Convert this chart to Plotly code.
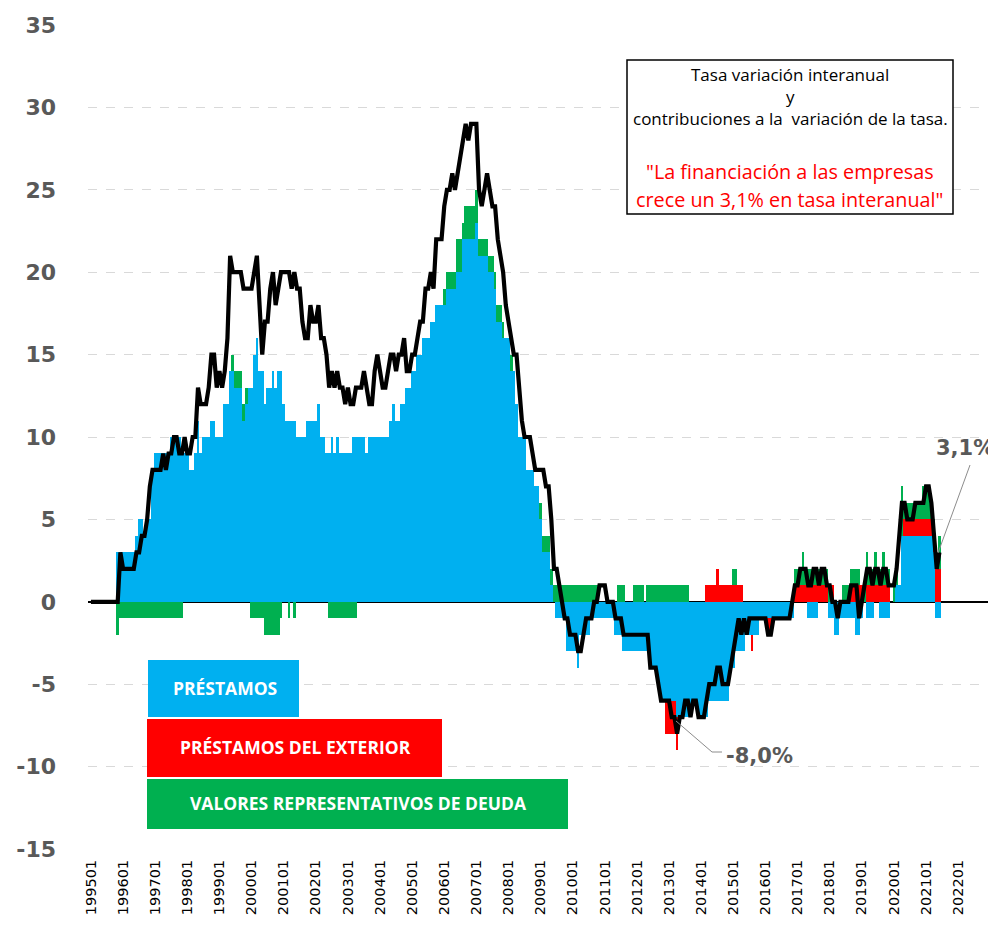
import plotly.graph_objects as go

# ---------------- data (monthly, 199501 .. 202106) ----------------
total = [
    0, 0, 0, 0, 0, 0, 0, 0, 0, 0, 0, 3,            # 1995
    2, 2, 2, 2, 2, 3, 3, 4, 4, 5, 7, 8,            # 1996
    8, 8, 8, 9, 8, 9, 9, 10, 10, 9, 9, 10,         # 1997
    9, 9, 10, 10, 13, 12, 12, 12, 13, 15, 15, 13,  # 1998
    14, 13, 14, 16, 21, 20, 20, 20, 20, 19, 19, 19,  # 1999
    19, 20, 21, 18, 15, 17, 17, 19, 20, 18, 19, 20,  # 2000
    20, 20, 20, 19, 20, 19, 19, 17, 16, 16, 18, 17,  # 2001
    17, 18, 16, 16, 15, 13, 14, 13, 14, 13, 13, 12,  # 2002
    13, 12, 12, 13, 13, 13, 14, 13, 12, 12, 14, 15,  # 2003
    14, 13, 13, 14, 15, 15, 14, 15, 15, 16, 14, 14,  # 2004
    15, 15, 16, 17, 17, 19, 19, 20, 19, 22, 22, 22,  # 2005
    24, 25, 25, 26, 25, 26, 27, 28, 29, 28, 29, 29,  # 2006
    29, 25, 24, 25, 26, 25, 24, 24, 22, 21, 20, 18,  # 2007
    17, 16, 15, 15, 13, 11, 10, 10, 10, 9, 8, 8,     # 2008
    8, 8, 7, 7, 5, 2, 2, 1, 0, -1, -1, -2,           # 2009
    -2, -2, -3, -3, -2, -1, -1, -1, 0, 0, 1, 1,      # 2010
    1, 0, 0, 0, -1, -1, -1, -2, -2, -2, -2, -2,      # 2011
    -2, -2, -2, -2, -2, -4, -4, -4, -5, -6, -6, -6,  # 2012
    -6, -7, -7, -8, -7, -7, -6, -6, -7, -6, -6, -7,  # 2013
    -7, -7, -6, -5, -5, -5, -4, -4, -5, -5, -5, -4,  # 2014
    -3, -2, -1, -2, -1, -2, -1, -1, -1, -1, -1, -1,  # 2015
    -1, -2, -2, -1, -1, -1, -1, -1, -1, -1, 0, 1,    # 2016
    1, 2, 2, 2, 1, 1, 2, 2, 1, 2, 2, 1,              # 2017
    1, 0, 0, -1, 0, 0, 0, 0, 1, 1, 1, -1,            # 2018
    0, 1, 2, 2, 1, 2, 2, 1, 2, 2, 1, 1,              # 2019
    1, 2, 4, 6, 6, 5, 5, 5, 6, 6, 6, 6,              # 2020
    7, 7, 6, 4, 2, 3,                                # 2021
]

prestamos = [
    0, 0, 0, 0, 0, 0, 0, 0, 0, 0, 3, 3,
    3, 3, 3, 3, 3, 4, 5, 5, 4, 5, 5, 8,
    9, 9, 9, 9, 9, 9, 10, 10, 10, 10, 9, 9,
    9, 8, 8, 9, 11, 9, 10, 10, 10, 11, 11, 10,
    10, 10, 12, 12, 14, 14, 13, 13, 13, 11, 12, 13,
    13, 15, 16, 14, 14, 12, 13, 13, 14, 13, 14, 14,
    12, 11, 11, 11, 11, 10, 10, 10, 10, 11, 11, 11,
    11, 12, 10, 10, 9, 9, 10, 9, 10, 9, 9, 9,
    9, 9, 10, 10, 10, 10, 10, 9, 10, 10, 10, 10,
    10, 10, 10, 10, 11, 12, 11, 11, 12, 12, 13, 13,
    14, 14, 15, 15, 16, 16, 16, 17, 17, 18, 18, 18,
    18, 19, 19, 19, 19, 20, 20, 22, 22, 22, 22, 22,
    23, 21, 21, 21, 21, 20, 20, 19, 17, 17, 16, 16,
    16, 14, 14, 12, 10, 10, 10, 8, 8, 8, 7, 7,
    5, 3, 3, 3, 1, 0, -1, -1, -1, -1, -3, -3,
    -3, -3, -4, -2, -2, -2, -2, -1, -1, -1, -1, -1,
    -1, -1, -1, -1, -2, -2, -2, -3, -3, -3, -3, -3,
    -3, -3, -3, -3, -3, -4, -4, -4, -5, -6, -6, -6,
    -6, -6, -6, -7, -7, -7, -7, -7, -7, -6, -6, -7,
    -7, -7, -7, -6, -6, -6, -6, -6, -6, -6, -6, -4,
    -4, -3, -3, -3, -3, -2, -2, -2, -2, -2, -1, -1,
    -1, -1, -1, -1, -1, -1, -1, -1, -1, -1, -1, 0,
    0, 0, 0, 0, -1, -1, -1, -1, 0, 0, 0, 0,
    -1, -1, -2, -2, -1, -1, -1, -1, -1, -1, -2, -2,
    -1, 0, -1, -1, -1, 0, 0, -1, -1, -1, -1, 0,
    0, 1, 1, 4, 4, 4, 4, 4, 4, 4, 4, 4,
    4, 4, 4, 3, -1, -1,
]

prestamos_exterior = [0] * 12 * 17 + [
    0, 0, 0, 0, 0, 0, 0, 0, 0, 0, 0, -2,             # 2012
    -2, -2, -2, -2, 0, 0, 0, 0, 0, 0, 0, 0,          # 2013
    0, 0, 1, 1, 1, 1, 2, 1, 1, 1, 1, 1,              # 2014
    1, 1, 1, 1, 0, 0, 0, -1, 0, 0, 0, 0,             # 2015
    0, -1, -1, 0, 0, 0, 0, 0, 0, 0, 0, 1,            # 2016
    1, 1, 1, 1, 1, 1, 1, 1, 1, 1, 1, 1,              # 2017
    0, 1, 0, 0, 0, 0, 0, 0, 1, 1, 1, 1,              # 2018
    1, 0, 1, 1, 1, 1, 1, 1, 1, 1, 1, 0,              # 2019
    0, 0, 0, 0, 1, 1, 1, 1, 1, 1, 1, 1,              # 2020
    1, 1, 1, 1, 2, 2,                                # 2021
]

valores_deuda = [
    0, 0, 0, 0, 0, 0, 0, 0, 0, 0, -2, -1,
    -1, -1, -1, -1, -1, -1, -1, -1, -1, -1, -1, -1,
    -1, -1, -1, -1, -1, -1, -1, -1, -1, -1, -1, 0,
    0, 0, 0, 0, 0, 0, 0, 0, 0, 0, 0, 0,
    0, 0, 0, 0, 0, 1, 1, 1, 1, 1, 1, 0,
    -1, -1, -1, -1, -1, -2, -2, -2, -2, -2, -2, -1,
    0, 0, -1, 0, -1, 0, 0, 0, 0, 0, 0, 0,
    0, 0, 0, 0, 0, -1, -1, -1, -1, -1, -1, -1,
    -1, -1, -1, -1, 0, 0, 0, 0, 0, 0, 0, 0,
    0, 0, 0, 0, 0, 0, 0, 0, 0, 0, 0, 0,
    0, 0, 0, 0, 0, 0, 0, 0, 0, 0, 0, 0,
    1, 1, 1, 1, 1, 2, 2, 1, 2, 2, 2, 2,
    2, 1, 1, 1, 1, 1, 1, 1, 1, 1, 1, 0,
    0, 1, 0, 0, 0, 0, 0, 0, 0, 0, 0, 0,
    1, 1, 1, 1, 1, 1, 1, 1, 1, 1, 1, 1,
    1, 1, 1, 1, 1, 1, 1, 1, 1, 1, 0, 0,
    0, 0, 0, 0, 0, 1, 1, 1, 0, 0, 0, 1,
    1, 1, 1, 0, 1, 1, 1, 1, 1, 1, 1, 1,
    1, 1, 1, 1, 1, 1, 1, 1, 0, 0, 0, 0,
    0, 0, 0, 0, 0, 0, 0, 0, 0, 0, 0, 0,
    1, 1, 0, 0, 0, 0, 0, 0, 0, 0, 0, 0,
    0, 0, 0, 0, 0, 0, 0, 0, 0, 0, 0, 1,
    1, 1, 2, 1, 1, 1, 1, 1, 1, 1, 1, 1,
    1, 0, 0, 0, 0, 1, 1, 1, 1, 1, 1, 1,
    0, 1, 2, 1, 1, 2, 1, 1, 2, 1, 1, 0,
    1, 1, 0, 3, 1, 1, 1, 1, 1, 1, 1, 2,
    2, 2, 1, 1, 1, 2,
]

n_months = len(total)
all_months = [f"{y}{m:02d}" for y in range(1995, 2023) for m in range(1, 13)]
months = all_months[:n_months]
tick_labels = [f"{y}01" for y in range(1995, 2023)]
y_ticks = [-15, -10, -5, 0, 5, 10, 15, 20, 25, 30, 35]

legend_labels = ["PRÉSTAMOS", "PRÉSTAMOS DEL EXTERIOR", "VALORES REPRESENTATIVOS DE DEUDA"]
colors = ["#00B0F0", "#FF0000", "#00B050"]

# ---------------- figure ----------------
# page body has an 8px margin, so the figure is 8px smaller than the window
OFF = 8
WIN_W, WIN_H = 996, 928
W, H = WIN_W - OFF, WIN_H - OFF
L, R, T, B = 88, 990, 25, 849   # plot area in window pixels


def px(x):
    return (x - L) / (R - L)


def py(y):
    return (B - y) / (B - T)


fig = go.Figure()
for name, vals, c in zip(legend_labels, [prestamos, prestamos_exterior, valores_deuda], colors):
    fig.add_trace(go.Bar(x=months, y=vals, name=name, marker=dict(color=c, line=dict(width=0))))
fig.add_trace(go.Scatter(x=months, y=total, mode="lines", name="Total",
                         line=dict(color="black", width=4.2)))

shapes = []
annotations = []

# legend boxes
boxes = [(148, 660, 299, 717), (147, 719, 442, 777), (147, 779, 568, 829)]
for (x0, y0, x1, y1), c, lab in zip(boxes, colors, legend_labels):
    shapes.append(dict(type="rect", xref="paper", yref="paper", x0=px(x0), x1=px(x1),
                       y0=py(y1), y1=py(y0), fillcolor=c, line=dict(width=0)))
    annotations.append(dict(xref="paper", yref="paper", x=px((x0 + x1) / 2 + 1), y=py((y0 + y1) / 2 - 1),
                            text=f"<b>{lab}</b>", showarrow=False,
                            font=dict(family="Open Sans", size=17.5, color="white"),
                            xanchor="center", yanchor="middle"))

# text box
shapes.append(dict(type="rect", xref="paper", yref="paper", x0=px(627), x1=px(953),
                   y0=py(214), y1=py(60), fillcolor="white", line=dict(color="black", width=1.5)))
box_lines = [
    ("Tasa variación interanual", 74, "black", 17),
    ("y", 96, "black", 17),
    ("contribuciones a la  variación de la tasa.", 119, "black", 17),
    ("\"La financiación a las empresas", 171, "#FF0000", 19.8),
    ("crece un 3,1% en tasa interanual\"", 199, "#FF0000", 19.8),
]
for txt, yy, c, s in box_lines:
    annotations.append(dict(xref="paper", yref="paper", x=px(790), y=py(yy), text=txt,
                            showarrow=False, font=dict(family="Open Sans", size=s, color=c),
                            xanchor="center", yanchor="middle"))

# callouts
shapes.append(dict(type="line", xref="paper", yref="paper", x0=px(938), y0=py(553),
                   x1=px(970), y1=py(465), line=dict(color="#8C8C8C", width=1)))
shapes.append(dict(type="path", xref="paper", yref="paper",
                   path=f"M {px(676)},{py(721)} L {px(712)},{py(752)} L {px(722)},{py(752)}",
                   line=dict(color="#8C8C8C", width=1)))
annotations.append(dict(xref="paper", yref="paper", x=px(996), y=py(448), text="<b>3,1%</b>",
                        showarrow=False, font=dict(family="DejaVu Sans", size=21, color="#595959"),
                        xanchor="right", yanchor="middle"))
annotations.append(dict(xref="paper", yref="paper", x=px(759), y=py(756), text="<b>-8,0%</b>",
                        showarrow=False, font=dict(family="DejaVu Sans", size=21, color="#595959"),
                        xanchor="center", yanchor="middle"))

fig.update_layout(
    width=W, height=H,
    margin=dict(l=L - OFF, r=WIN_W - R, t=T - OFF, b=WIN_H - B, autoexpand=False),
    barmode="relative", bargap=0,
    showlegend=False,
    plot_bgcolor="white", paper_bgcolor="white",
    shapes=shapes, annotations=annotations,
    xaxis=dict(type="category", categoryorder="array", categoryarray=all_months,
               tickmode="array", tickvals=tick_labels, ticktext=tick_labels,
               tickangle=-90, range=[-1.1, 335.9], showgrid=False, zeroline=False,
               showline=False, ticks="", ticklabelstandoff=7, automargin=False,
               tickfont=dict(family="DejaVu Sans", size=14.5, color="#000000")),
    yaxis=dict(range=[-15, 35], tickmode="array", tickvals=y_ticks,
               ticktext=[str(v) for v in y_ticks], showgrid=True, gridcolor="#D9D9D9",
               griddash="dash", gridwidth=1, zeroline=True, zerolinecolor="black",
               zerolinewidth=1.5, showline=False, ticks="", ticklabelstandoff=31,
               automargin=False,
               tickfont=dict(family="DejaVu Sans", size=22, color="#595959", weight="bold")),
)

fig.write_html("out.html")
